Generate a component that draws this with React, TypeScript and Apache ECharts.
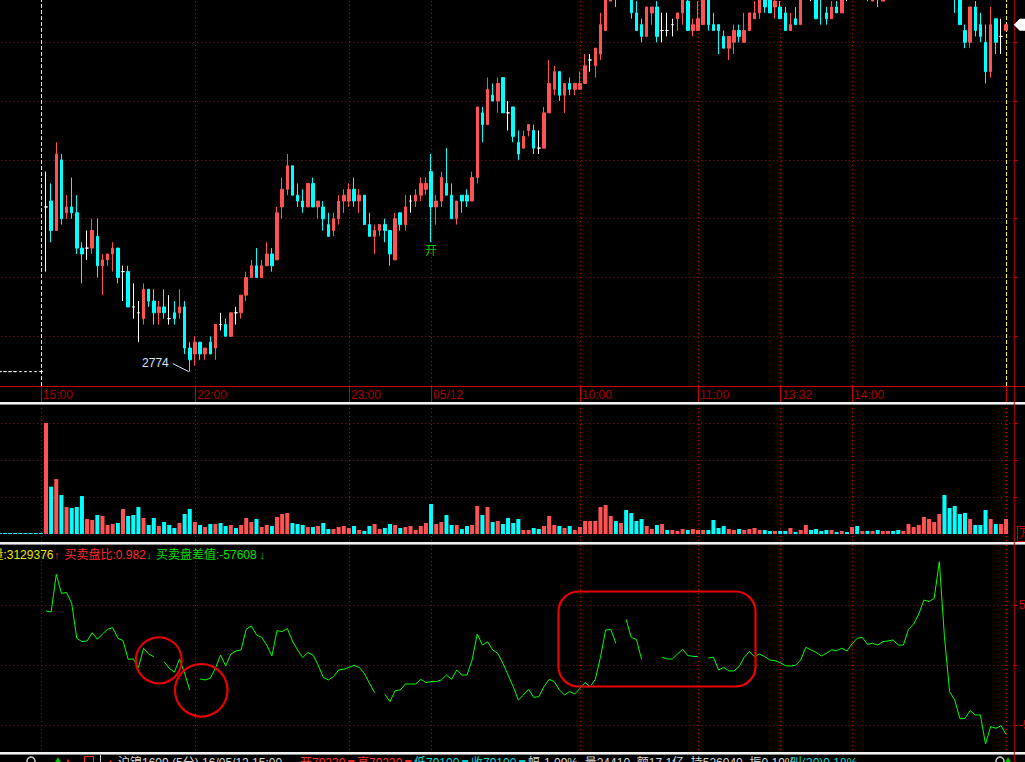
import React, { useEffect, useRef } from 'react';
import * as echarts from 'echarts';

// ---------------- data ----------------
// flat bars of the previous session shown at the left edge: [open, high, low, close]
const priorBars: number[][] = [
  [2774, 2774, 2774, 2774], [2774, 2774, 2774, 2774], [2774, 2774, 2774, 2774],
  [2774, 2774, 2774, 2774], [2774, 2774, 2774, 2774], [2774, 2774, 2774, 2774],
  [2774, 2774, 2774, 2774], [2774, 2774, 2774, 2774], [2774, 2774, 2774, 2774],
];
const priorVolumes = [540, 540, 540, 540, 540, 540, 540, 540, 540];

// 2-minute bars, night session 21:02 -> day session close 15:00: [open, high, low, close]
const bars: number[][] = [
  [2802,2808,2791,2802],[2803,2806,2796,2798],[2798,2813,2798,2811],[2810,2811,2799,2800],[2801,2804,2800,2802],[2802,2807,2800,2801],[2801,2804,2794,2795],[2795,2796,2789,2794],[2795,2798,2793,2795],[2795,2800,2794,2798],
  [2797,2800,2790,2792],[2792,2794,2787,2793],[2793,2794,2792,2794],[2794,2796,2791,2795],[2795,2795,2789,2790],[2791,2792,2786,2791],[2791,2792,2785,2785],[2785,2789,2783,2785],[2784,2786,2779,2784],[2783,2789,2782,2788],
  [2788,2788,2785,2786],[2786,2788,2782,2784],[2784,2786,2782,2785],[2785,2788,2783,2784],[2783,2787,2782,2783],[2784,2786,2782,2783],[2784,2788,2783,2785],[2785,2786,2777,2778],[2778,2779,2774,2776],[2777,2780,2775,2779],
  [2779,2779,2776,2777],[2777,2778,2776,2778],[2779,2780,2777,2777],[2778,2782,2776,2782],[2782,2784,2781,2782],[2782,2783,2780,2780],[2780,2784,2780,2784],[2784,2785,2782,2784],[2784,2787,2783,2787],[2787,2791,2786,2790],
  [2790,2793,2790,2792],[2792,2795,2790,2790],[2790,2793,2790,2792],[2792,2796,2792,2794],[2794,2795,2791,2792],[2793,2802,2793,2801],[2802,2807,2800,2805],[2805,2811,2804,2809],[2809,2809,2804,2804],[2804,2806,2802,2803],
  [2803,2805,2801,2802],[2802,2806,2802,2806],[2806,2807,2802,2802],[2802,2803,2800,2803],[2802,2803,2798,2800],[2799,2801,2797,2797],[2798,2801,2797,2800],[2800,2804,2799,2803],[2803,2805,2801,2804],[2803,2806,2802,2805],
  [2805,2807,2802,2803],[2803,2805,2801,2804],[2804,2804,2799,2799],[2799,2801,2797,2797],[2797,2799,2794,2798],[2798,2799,2797,2799],[2799,2800,2796,2798],[2798,2798,2792,2794],[2793,2801,2793,2800],[2801,2801,2798,2799],
  [2799,2804,2798,2802],[2803,2804,2801,2803],[2803,2805,2802,2804],[2804,2807,2803,2806],[2805,2807,2804,2806],[2808,2811,2796,2802],[2802,2804,2799,2803],[2803,2808,2802,2807],[2806,2812,2804,2804],[2804,2806,2800,2800],
  [2800,2803,2799,2803],[2804,2804,2801,2803],[2804,2805,2802,2803],[2803,2808,2803,2807],[2807,2819,2806,2819],[2818,2819,2813,2816],[2816,2824,2816,2822],[2821,2823,2820,2820],[2820,2824,2818,2823],[2824,2824,2818,2818],
  [2818,2820,2815,2818],[2819,2819,2813,2814],[2813,2815,2810,2811],[2812,2815,2812,2814],[2815,2816,2814,2816],[2815,2816,2811,2812],[2812,2815,2811,2812],[2812,2819,2812,2818],[2818,2827,2818,2823],[2822,2826,2821,2825],
  [2825,2825,2820,2821],[2821,2823,2818,2823],[2823,2824,2821,2822],[2822,2823,2821,2823],[2822,2825,2822,2823],[2823,2828,2823,2826],[2827,2828,2825,2827],[2826,2829,2824,2829],[2828,2835,2827,2833],[2832,2839,2832,2838],
  [2837,2840,2837,2839],[2840,2841,2836,2838],[2838,2841,2838,2840],[2841,2842,2838,2838],[2838,2839,2834,2835],[2835,2837,2832,2832],[2833,2834,2830,2831],[2831,2836,2831,2836],[2835,2836,2833,2836],[2836,2837,2830,2831],
  [2832,2835,2830,2832],[2832,2835,2831,2832],[2833,2834,2831,2833],[2834,2835,2832,2835],[2835,2839,2833,2838],[2837,2838,2832,2832],[2832,2834,2831,2833],[2832,2837,2832,2834],[2833,2839,2833,2838],[2838,2839,2832,2833],
  [2833,2835,2832,2832],[2833,2833,2828,2832],[2831,2832,2829,2829],[2829,2831,2827,2831],[2830,2833,2828,2832],[2832,2833,2830,2831],[2830,2835,2830,2832],[2832,2835,2832,2835],[2834,2837,2834,2835],[2835,2839,2834,2838],
  [2838,2839,2835,2836],[2838,2839,2835,2835],[2836,2838,2834,2837],[2836,2837,2834,2834],[2835,2836,2832,2832],[2832,2835,2832,2833],[2834,2836,2833,2833],[2833,2839,2833,2838],[2838,2842,2838,2841],[2839,2841,2837,2839],
  [2839,2840,2834,2834],[2841,2842,2833,2838],[2835,2836,2833,2834],[2834,2837,2834,2836],[2836,2837,2835,2835],[2835,2839,2835,2838],[2838,2840,2837,2838],[2838,2841,2838,2840],[2840,2842,2838,2839],[2839,2842,2838,2841],
  [2841,2842,2837,2839],[2837,2841,2837,2840],[2840,2841,2836,2838],[2837,2840,2837,2839],[2838,2841,2838,2840],[2840,2841,2838,2839],[2839,2840,2838,2838],[2838,2840,2838,2839],[2839,2842,2838,2841],[2841,2843,2840,2842],
  [2842,2845,2841,2844],[2844,2848,2843,2847],[2847,2850,2846,2849],[2849,2852,2848,2851],[2851,2857,2850,2855],[2855,2856,2846,2847],[2847,2849,2840,2842],[2842,2843,2835,2838],[2838,2839,2833,2833],[2832,2833,2829,2830],
  [2830,2836,2829,2836],[2836,2837,2831,2832],[2833,2835,2830,2831],[2830,2833,2823,2825],[2825,2836,2824,2833],[2834,2834,2828,2830],[2831,2834,2828,2831],[2832,2833,2832,2833],
];

const volumes: number[] = [
  60000, 25560, 29700, 21060, 14580, 14040, 14580, 20520, 8100, 7560,
  10260, 9720, 4860, 5400, 5940, 13500, 9720, 10260, 14580, 8640,
  4860, 8640, 4320, 6480, 4860, 3240, 5940, 10800, 13500, 6480,
  4860, 3780, 5400, 5400, 5940, 4320, 4860, 3240, 4860, 8640,
  6480, 8100, 3780, 4860, 4320, 9180, 10800, 11340, 5940, 5400,
  4860, 3780, 3780, 4320, 5940, 2700, 2700, 3780, 4320, 3240,
  4320, 2160, 1620, 4320, 5400, 2700, 3240, 5400, 4860, 3240,
  3780, 4320, 2160, 4320, 5940, 16200, 5400, 6480, 10260, 4860,
  4860, 2700, 4320, 4860, 15120, 10260, 14580, 6480, 7020, 5400,
  8640, 5940, 8100, 2160, 2160, 3240, 2700, 4320, 9720, 4860,
  4320, 3240, 4320, 2160, 3780, 7020, 7020, 7020, 14580, 15660,
  9720, 7020, 5940, 12960, 11340, 7020, 8100, 4320, 2700, 4860,
  5400, 2160, 2160, 1620, 2700, 2160, 2700, 2160, 2160, 2160,
  7560, 3240, 4320, 2700, 2160, 2700, 2160, 2700, 3240, 2160,
  2160, 1620, 1620, 1620, 1620, 3240, 1080, 2160, 4860, 2160,
  2700, 1620, 2160, 2160, 1080, 1620, 1080, 3780, 4320, 1620,
  1620, 1620, 2160, 1620, 1620, 1620, 2160, 1620, 5400, 3780,
  4860, 9180, 8100, 6480, 10800, 21060, 14040, 15120, 10800, 11340,
  8100, 4860, 4860, 12960, 8100, 5400, 5400, 8100,
];

// 买卖盘差值 per bar (null = no value)
const netDiff: (number | null)[] = [
  45300, 44400, 75800, 60000, 60600, 51700, 22500, 19700, 20300, 27200,
  21700, 26100, 30000, 31400, 22500, 20600, 5000, 5300, -1900, 14200,
  9400, 7200, null, 3100, -2500, -5800, 5300, -6700, -20600, null,
  -11400, -12200, -10800, -2500, 8600, -600, 9400, 11900, 12800, 30000,
  32800, 25300, 23300, 16900, 7800, 28900, 28100, 30600, 20300, 12800,
  6400, 10600, 8600, 300, -10000, -12200, -9400, -3900, -3300, -1700,
  0, -1700, -6700, -15000, -22800, null, -24200, -30300, -21100, -20600,
  -15600, -15600, -15600, -11700, -14400, -13600, -13600, -12200, -8100, -11700,
  -3900, -8100, -8100, 4400, 26100, 16900, 19700, 12800, 10000, 1700,
  -8100, -17800, -28900, -24700, -20000, -26700, -26100, -17800, -11700, -13600,
  -20600, -24700, -21900, -23900, -19200, -14400, -17800, -11700, 6700, 29400,
  30000, 18300, null, 38300, 23100, 21700, 5000, null, null, null,
  6700, 5300, 5300, 9400, 13300, 8100, 7500, 7200, null, 6100,
  6700, -3900, -1700, -4700, -4700, -1100, 6700, 11400, 7200, 9400,
  7200, 4400, 3900, 2200, -300, -600, 0, 4400, 15000, 12800,
  10800, 7800, 10000, 12800, 12200, 14200, 11900, 17800, 22500, 23300,
  17500, 18300, 16900, 19700, 20300, 21100, 16900, 16900, 30000, 34400,
  42800, 54400, 53100, 55800, 86400, 23900, -21900, -28900, -44200, -44200,
  -37800, -41400, -41400, -65600, -51100, -52500, -50300, -57608,
];

const timeLabels = ['15:00', '22:00', '23:00', '05/12', '10:00', '11:00', '13:32', '14:00', ''];
const timeLabelSlots = [8, 38, 68, 84, 113, 136, 152, 166, 196];
const sessionCloseSlots = [8, 196];
const priceGridLines = [2780, 2790, 2800, 2810, 2820, 2830];
const volumeGridLines = [20000, 40000, 60000];
const netGridLines = [50000, 0, -50000];
const netAxisLabels = [50000, -50000];
const openInterest = 3129376;
const bidAskRatio = 0.982;
const statusQuote = [
  { text: '沪镍1609 (5分) 16/05/12 15:00', color: '#D8D8D8', x: 118 },
  { text: '开79230▼', color: '#FF3030', x: 300 },
  { text: '高79230▼', color: '#FF3030', x: 357 },
  { text: '低79100▼', color: '#00D8D8', x: 414 },
  { text: '收79100▼', color: '#00D8D8', x: 471 },
  { text: '幅-1.09%  量24410  额17.1亿  持526040  振0.19%', color: '#D8D8D8', x: 528 },
  { text: '叫(30)0.18%', color: '#00D8D8', x: 790 },
];

// ---------------- layout / style ----------------
const W = 1025;
const H = 762;
const SLOT_W = 5.134;
const GRID_LEFT = -2.77;
const PRICE_MIN = 2771.55;
const PRICE_MAX = 2837.19;
const VOL_MIN = -3784;
const VOL_MAX = 69730;
const NET_MIN = -70580;
const NET_MAX = 100250;
const RED = '#FF5252';
const CYAN = '#00FFFF';
const GRID_RED = '#C80000';
const FONT = '"Liberation Sans", Arial, "Noto Sans CJK SC", sans-serif';

export default function App() {
  const ref = useRef<HTMLDivElement>(null);

  useEffect(() => {
    document.body.style.margin = '0';
    document.body.style.background = '#000';
    document.body.style.overflow = 'hidden';
    const chart = echarts.init(ref.current as HTMLDivElement, null, { renderer: 'svg' });

    const allBars = [...priorBars, ...bars];
    const allVol = [...priorVolumes, ...volumes];
    const allNet: (number | null)[] = [...priorBars.map(() => null), ...netDiff];
    const slotCount = allBars.length + 1;
    const slots = Array.from({ length: slotCount }, (_, i) => String(i));
    const gridWidth = slotCount * SLOT_W;
    const gridRight = GRID_LEFT + gridWidth;

    const dir = allBars.map((b, i) => {
      const o = b[0];
      const c = b[3];
      if (c > o) return 1;
      if (c < o) return -1;
      const pc = i > 0 ? allBars[i - 1][3] : c;
      return c > pc ? 1 : -1;
    });

    const candleData = slots.map((_, i) =>
      i < allBars.length ? [allBars[i][0], allBars[i][3], allBars[i][2], allBars[i][1]] : '-'
    );
    const volData = slots.map((_, i) =>
      i < allVol.length ? { value: allVol[i], itemStyle: { color: dir[i] > 0 ? RED : CYAN } } : '-'
    );
    const netData = slots.map((_, i) => (i < allNet.length && allNet[i] !== null ? allNet[i] : '-'));

    const labelMap: Record<number, string> = {};
    timeLabelSlots.forEach((s, i) => (labelMap[s] = timeLabels[i]));

    const dotted = () => ({ color: GRID_RED, width: 1, type: [1, 3] });
    const gridLines = (hVals: number[], vSlots: number[], yellow: number[]) => ({
      silent: true,
      z: 0,
      symbol: ['none', 'none'],
      label: { show: false },
      animation: false,
      emphasis: { disabled: true },
      data: [
        ...hVals.map((v) => ({ yAxis: v, lineStyle: dotted() })),
        ...vSlots.map((s) => ({ xAxis: String(s), lineStyle: dotted() })),
        ...yellow.map((s) => ({ xAxis: String(s), lineStyle: { color: '#FFFF00', width: 1, type: [4, 2] } })),
      ],
    });

    const gridBase = { left: GRID_LEFT, width: gridWidth, containLabel: false, outerBoundsMode: 'none' };
    const grids = [
      { ...gridBase, top: 0, height: 386 },
      { ...gridBase, top: 405, height: 136 },
      { ...gridBase, top: 545, height: 205 },
    ];

    const option: any = {
      animation: false,
      backgroundColor: '#000000',
      grid: grids,
      xAxis: [0, 1, 2].map((g) => ({
        type: 'category',
        gridIndex: g,
        data: slots,
        boundaryGap: true,
        show: g === 0,
        axisLine: { show: g === 0, lineStyle: { color: GRID_RED, width: 1 } },
        axisTick: {
          show: g === 0,
          alignWithLabel: true,
          length: 16,
          interval: (i: number) => timeLabelSlots.includes(i),
          lineStyle: { color: GRID_RED },
        },
        axisLabel: {
          show: g === 0,
          interval: (i: number) => labelMap[i] !== undefined && labelMap[i] !== '',
          formatter: (_v: string, i: number) => labelMap[i] || '',
          color: '#A80000',
          fontSize: 12,
          fontFamily: FONT,
          align: 'left',
          margin: 3,
          padding: [0, 0, 0, 2],
        },
        splitLine: { show: false },
      })),
      yAxis: [
        {
          type: 'value', gridIndex: 0, position: 'right', min: PRICE_MIN, max: PRICE_MAX,
          splitLine: { show: false }, axisLine: { show: false },
          axisTick: { show: true, customValues: priceGridLines, length: 4, lineStyle: { color: GRID_RED } },
          axisLabel: { show: false },
        },
        {
          type: 'value', gridIndex: 1, position: 'right', min: VOL_MIN, max: VOL_MAX,
          splitLine: { show: false }, axisLine: { show: false },
          axisTick: { show: true, customValues: volumeGridLines, length: 4, lineStyle: { color: GRID_RED } },
          axisLabel: { show: false },
        },
        {
          type: 'value', gridIndex: 2, position: 'right', min: NET_MIN, max: NET_MAX,
          splitLine: { show: false }, axisLine: { show: false },
          axisTick: { show: true, customValues: netGridLines, length: 4, lineStyle: { color: GRID_RED } },
          axisLabel: {
            show: true, customValues: netAxisLabels, color: GRID_RED, fontSize: 12, fontFamily: FONT, margin: 5,
            formatter: (v: number) => String(v),
          },
        },
      ],
      series: [
        {
          type: 'line', xAxisIndex: 0, yAxisIndex: 0, data: [], z: 1, silent: true, symbol: 'none',
          markLine: gridLines(
            priceGridLines,
            timeLabelSlots.filter((s) => !sessionCloseSlots.includes(s)),
            sessionCloseSlots
          ),
        },
        {
          type: 'candlestick', xAxisIndex: 0, yAxisIndex: 0, data: candleData, barWidth: 3, z: 3,
          clip: true,
          emphasis: { disabled: true },
          itemStyle: {
            color: RED, color0: CYAN, borderColor: RED, borderColor0: CYAN,
            borderColorDoji: '#FFFFFF', borderWidth: 1,
          },
        },
        {
          type: 'line', xAxisIndex: 1, yAxisIndex: 1, data: [], z: 1, silent: true, symbol: 'none',
          markLine: gridLines(volumeGridLines, timeLabelSlots, []),
        },
        {
          type: 'bar', xAxisIndex: 1, yAxisIndex: 1, data: volData, barWidth: 4, z: 3,
          emphasis: { disabled: true },
        },
        {
          type: 'line', xAxisIndex: 2, yAxisIndex: 2, data: [], z: 1, silent: true, symbol: 'none',
          markLine: gridLines(netGridLines, timeLabelSlots, []),
        },
        {
          type: 'line', xAxisIndex: 2, yAxisIndex: 2, data: netData, z: 3, showSymbol: false,
          symbol: 'none', connectNulls: false, lineStyle: { color: '#00FF00', width: 1 },
          emphasis: { disabled: true },
        },
      ],
    };

    chart.setOption(option);

    // ----- marks positioned through the price scale -----
    let lowIdx = 0;
    bars.forEach((b, i) => {
      if (b[2] < bars[lowIdx][2]) lowIdx = i;
    });
    const lowSlot = priorBars.length + lowIdx;
    const [lx, ly] = chart.convertToPixel({ gridIndex: 0 }, [String(lowSlot), bars[lowIdx][2]]) as number[];

    const openSlot = timeLabelSlots[3];
    const openBar = allBars[openSlot];
    const [ox, oy] = chart.convertToPixel({ gridIndex: 0 }, [String(openSlot), openBar[2]]) as number[];

    const lastSlot = allBars.length - 1;
    const lastClose = allBars[lastSlot][3];
    const [, cy] = chart.convertToPixel({ gridIndex: 0 }, [String(lastSlot), lastClose]) as number[];

    const txt = (x: number, y: number, text: string, fill: string, extra: any = {}) => ({
      type: 'text', x, y, z: 100, silent: true,
      style: { text, fill, fontSize: 12, fontFamily: FONT, align: 'left', verticalAlign: 'middle', ...extra },
    });
    const hline = (y: number, color: string, w: number) => ({
      type: 'rect', z: 100, silent: true, shape: { x: 0, y, width: W, height: w }, style: { fill: color },
    });

    const lastNet = netDiff[netDiff.length - 1] as number;

    const elements: any[] = [
      // time axis line across the whole width
      { type: 'line', z: 100, silent: true, shape: { x1: 0, y1: 386.5, x2: W, y2: 386.5 }, style: { stroke: GRID_RED, lineWidth: 1 } },
      // panel separators
      hline(402, '#F2F2F2', 2), hline(404, '#8A8A8A', 1),
      hline(542, '#F2F2F2', 2), hline(544, '#8A8A8A', 1),
      hline(752, '#F2F2F2', 2), hline(754, '#8A8A8A', 1),
      // right axis line
      { type: 'line', z: 101, silent: true, shape: { x1: gridRight + 0.5, y1: 0, x2: gridRight + 0.5, y2: H }, style: { stroke: GRID_RED, lineWidth: 1 } },
      // indicator title row
      txt(53.5, 554.5, '持仓量:' + openInterest, '#E8E800', { align: 'right' }),
      txt(54, 554.5, '↑', '#FF3030', { fontSize: 11, fontWeight: 'bold' }),
      txt(64.5, 554.5, '买卖盘比:' + bidAskRatio.toFixed(3), '#FF2A2A'),
      txt(146.5, 554.5, '↓', '#00C000', { fontSize: 11, fontWeight: 'bold' }),
      txt(156, 554.5, '买卖盘差值:' + lastNet, '#00E000'),
      txt(259.5, 554.5, '↓', '#00C000', { fontSize: 11, fontWeight: 'bold' }),
      // hand-drawn annotations
      { type: 'circle', z: 102, silent: true, shape: { cx: 158.8, cy: 660.3, r: 23 }, style: { fill: 'none', stroke: '#E80000', lineWidth: 2.2 } },
      { type: 'circle', z: 102, silent: true, shape: { cx: 201.3, cy: 690.3, r: 26.3 }, style: { fill: 'none', stroke: '#E80000', lineWidth: 2.2 } },
      { type: 'rect', z: 102, silent: true, shape: { x: 558.5, y: 591.5, width: 197, height: 95, r: 20 }, style: { fill: 'none', stroke: '#E80000', lineWidth: 2.2 } },
      // volume unit box
      { type: 'rect', z: 100, silent: true, shape: { x: 1017.5, y: 526.5, width: 12, height: 15 }, style: { fill: '#000', stroke: GRID_RED, lineWidth: 1 } },
      txt(1019, 534, '万', GRID_RED),
      // status bar
      { type: 'circle', z: 100, silent: true, shape: { cx: 31, cy: 761, r: 4 }, style: { fill: 'none', stroke: '#C8C8C8', lineWidth: 1.5 } },
      { type: 'polygon', z: 100, silent: true, shape: { points: [[54, 764], [58, 757], [62, 764]] }, style: { fill: '#00C000' } },
      txt(64, 762, '+', '#FF3030', { fontSize: 13, fontWeight: 'bold' }),
      { type: 'rect', z: 100, silent: true, shape: { x: 84.5, y: 756.5, width: 9, height: 9 }, style: { fill: 'none', stroke: '#FF3030', lineWidth: 1 } },
      { type: 'line', z: 100, silent: true, shape: { x1: 100.5, y1: 755, x2: 100.5, y2: H }, style: { stroke: '#D0D0D0', lineWidth: 1 } },
      txt(106, 762, '▲', '#FF3030', { fontSize: 9 }),
      ...statusQuote.map((q) => txt(q.x, 757, q.text, q.color, { verticalAlign: 'top' })),
      { type: 'circle', z: 100, silent: true, shape: { cx: 1000, cy: 761, r: 4 }, style: { fill: 'none', stroke: '#C8C8C8', lineWidth: 1.5 } },
      { type: 'polygon', z: 100, silent: true, shape: { points: [[1004, 764], [1008, 757], [1012, 764]] }, style: { fill: '#00C000' } },
      // low price label with leader
      txt(lx - 21, ly - 8.5, String(bars[lowIdx][2]), '#D8E4FF', { align: 'right' }),
      { type: 'line', z: 100, silent: true, shape: { x1: lx - 17, y1: ly - 8, x2: lx - 1, y2: ly }, style: { stroke: '#D8E4FF', lineWidth: 1 } },
      // session open marker
      txt(ox, oy + 3, '开', '#00C800', { align: 'center', verticalAlign: 'top' }),
      // last price tag
      {
        type: 'polygon', z: 103, silent: true,
        shape: { points: [[gridRight, cy], [gridRight + 6, cy - 6], [W + 2, cy - 6], [W + 2, cy + 6], [gridRight + 6, cy + 6]] },
        style: { fill: '#FFFFFF' },
      },
    ];

    chart.setOption({ graphic: { elements } });

    return () => chart.dispose();
  }, []);

  return (
    <div
      ref={ref}
      style={{ position: 'absolute', left: 0, top: 0, width: W, height: H, background: '#000' }}
    />
  );
}
